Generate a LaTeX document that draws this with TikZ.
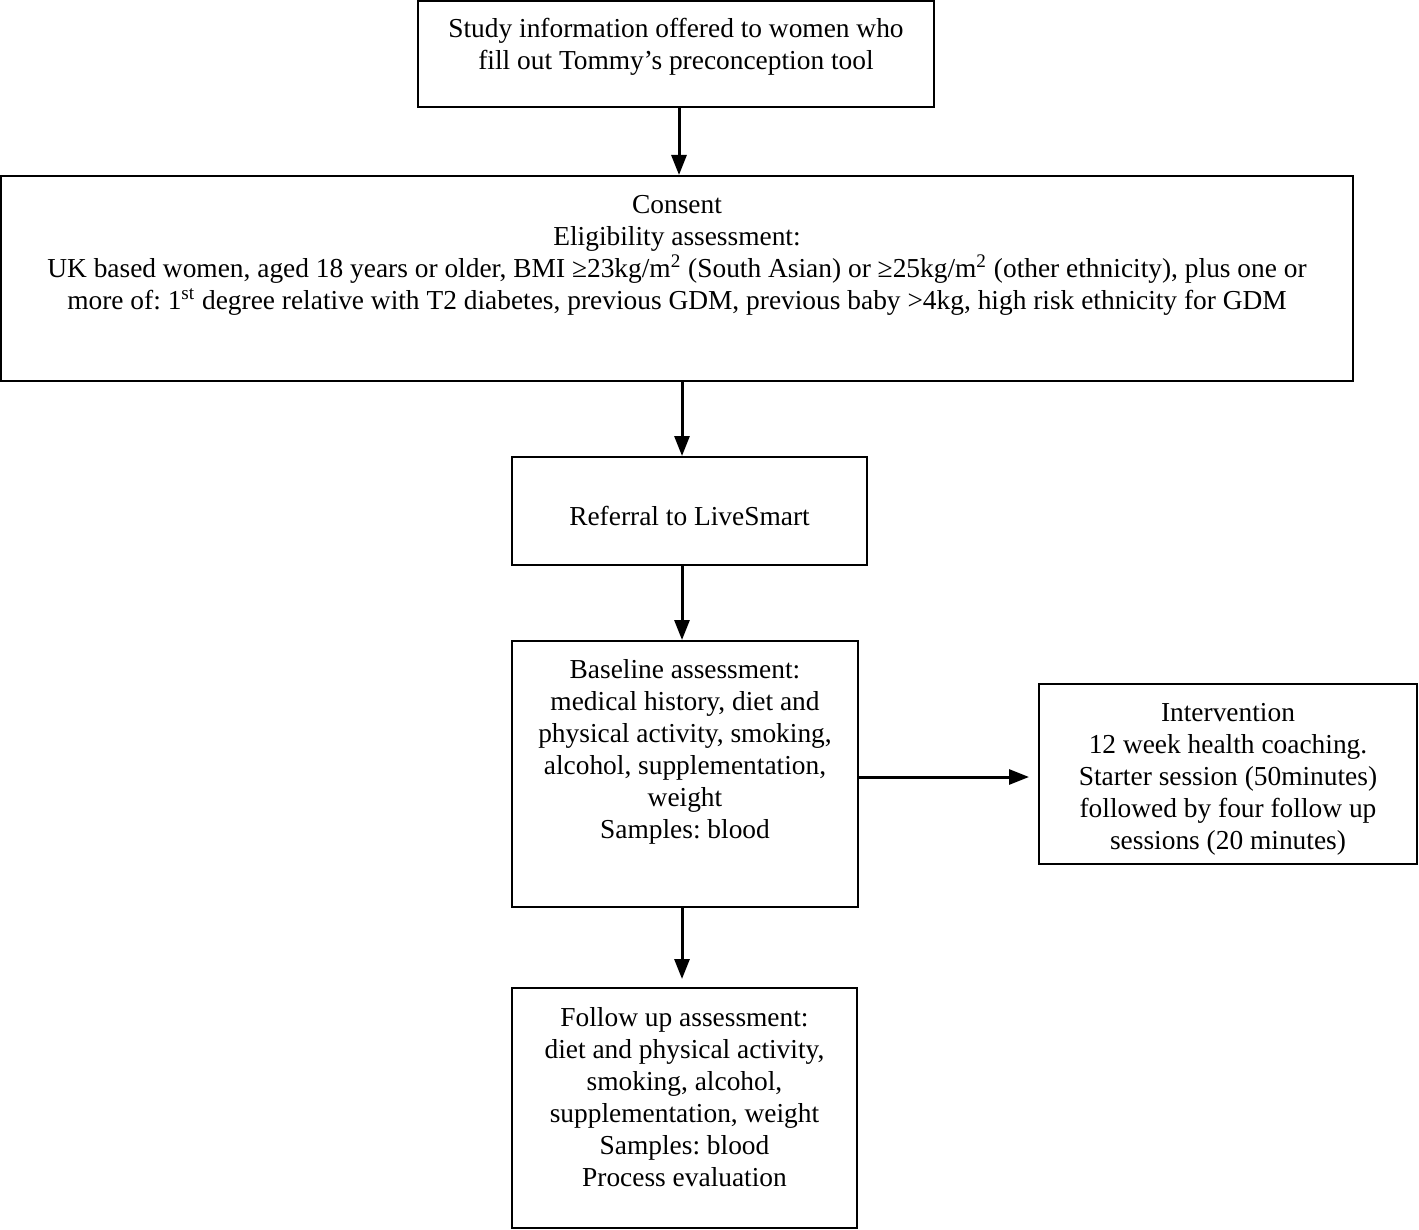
\documentclass[tikz,border=0pt]{standalone}
\usepackage{fontspec}
\setmainfont{Liberation Serif}
\usetikzlibrary{arrows.meta}
\frenchspacing
\begin{document}
\begin{tikzpicture}[x=0.5pt,y=-0.5pt,
  box/.style={draw, line width=1pt, inner sep=0pt, rectangle},
  txt/.style={anchor=north, align=center, inner sep=0pt, font=\fontsize{13.7pt}{16pt}\selectfont},
  arr/.style={line width=1.5pt, -{Triangle[width=7.5pt,length=10pt]}}]
\useasboundingbox (0,0) rectangle (1419,1230);
% boxes
\node[box, minimum width=258pt, minimum height=53pt] (b1) at (676,54) {};
\node[box, minimum width=676pt, minimum height=102.5pt] (b2) at (677,278.5) {};
\node[box, minimum width=177.5pt, minimum height=54pt] (b3) at (689.5,511) {};
\node[box, minimum width=173pt, minimum height=133pt] (b4) at (685,774) {};
\node[box, minimum width=189pt, minimum height=90pt] (b5) at (1228,774) {};
\node[box, minimum width=172.5pt, minimum height=120pt] (b6) at (684.5,1108) {};
% texts
\node[txt] (t1) at ([yshift=-7.5pt]b1.north) {\strut Study information offered to women who\\fill out Tommy’s preconception tool};
\node[txt] (t2) at ([yshift=-8pt]b2.north) {\strut Consent\\Eligibility assessment:\\UK based women, aged 18 years or older, BMI ≥23kg/m\textsuperscript{2} (South Asian) or ≥25kg/m\textsuperscript{2} (other ethnicity), plus one or\\more of: 1\textsuperscript{st} degree relative with T2 diabetes, previous GDM, previous baby >4kg, high risk ethnicity for GDM};
\node[txt] (t3) at ([yshift=-23.5pt]b3.north) {\strut Referral to LiveSmart};
\node[txt] (t4) at ([yshift=-8pt]b4.north) {\strut Baseline assessment:\\medical history, diet and\\physical activity, smoking,\\alcohol, supplementation,\\weight\\Samples: blood};
\node[txt] (t5) at ([yshift=-8pt]b5.north) {\strut Intervention\\12 week health coaching.\\Starter session (50minutes)\\followed by four follow up\\sessions (20 minutes)};
\node[txt] (t6) at ([yshift=-8.5pt]b6.north) {\strut Follow up assessment:\\diet and physical activity,\\smoking, alcohol,\\supplementation, weight\\Samples: blood\\Process evaluation};
% connectors
\coordinate (ax) at (682,0);
\draw[arr] ([xshift=1.5pt]b1.south) -- ([xshift=1.5pt]b1.south |- b2.north);
\draw[arr] (b2.south -| ax) -- (b3.north -| ax);
\draw[arr] (b3.south -| ax) -- (b4.north -| ax);
\draw[arr] (b4.south -| ax) -- ([yshift=4pt]b6.north -| ax);
\draw[arr] ([yshift=-1.5pt]b4.east) -- ([yshift=-1.5pt,xshift=-4.5pt]b5.west);
\end{tikzpicture}
\end{document}
